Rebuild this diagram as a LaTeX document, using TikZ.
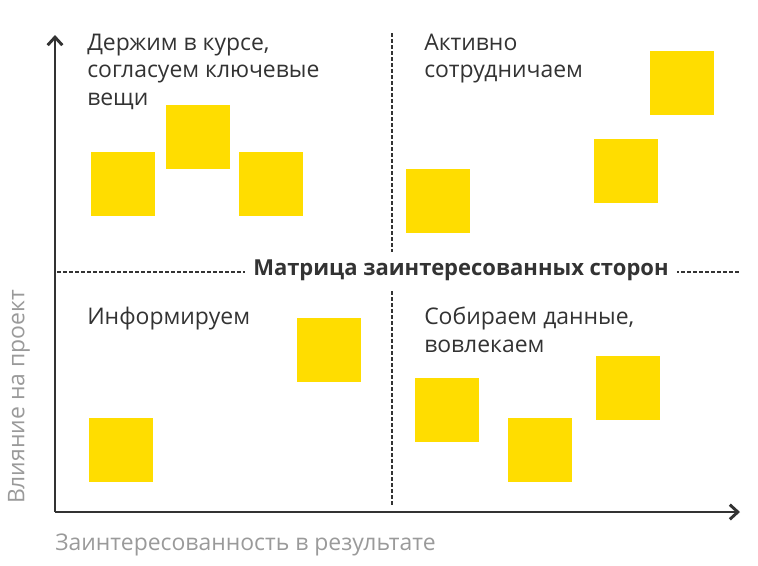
\documentclass[tikz,border=0pt]{standalone}
\usepackage{fontspec}
\setmainfont{Open Sans}
\usetikzlibrary{arrows.meta}
\definecolor{sticky}{HTML}{FFDD00}
\definecolor{axisc}{HTML}{333333}
\definecolor{labelc}{HTML}{9A9A9A}
\definecolor{textc}{HTML}{333333}
\begin{document}
\begin{tikzpicture}[x=0.75pt,y=-0.75pt,
  note/.style={fill=sticky,draw=none,minimum width=48pt,minimum height=48pt,inner sep=0pt,anchor=north west},
  quad/.style={anchor=north west,align=left,text=textc,font=\fontsize{17.2}{20.4}\selectfont,inner sep=0pt},
  axisline/.style={axisc,line width=2.2pt,-{Straight Barb[length=6pt,width=11pt,line width=2.2pt]}},
  divider/.style={axisc,line width=0.8pt,dash pattern=on 3pt off 1.5pt},
  axislabel/.style={text=labelc,font=\fontsize{17.2}{19}\selectfont,inner sep=0pt}]
\useasboundingbox (0,0) rectangle (758,565);
% axes
\coordinate (o) at (55,512);
\coordinate (ytop) at (55,35);
\coordinate (xend) at (740,512);
\draw[axisline] (o) -- (ytop);
\draw[axisline] (o) -- (xend);
% dividers
\coordinate (vt) at (392,33);
\coordinate (vb) at (392,505);
\coordinate (hl) at (57,272);
\coordinate (hr) at (740,272);
\draw[divider] (vt) -- (vb);
\draw[divider] (hl) -- (hr);
\node[fill=white,inner sep=6pt,font=\bfseries\fontsize{16.5}{19}\selectfont,text=textc] (title) at (461,270) {Матрица заинтересованных сторон};
% quadrant labels
\node[quad] (q1) at (87,34) {Держим в курсе,\\согласуем ключевые\\вещи};
\node[quad] (q2) at (424,34) {Активно\\сотрудничаем};
\node[quad] (q3) at (87,307) {Информируем};
\node[quad] (q4) at (424,307) {Собираем данные,\\вовлекаем};
% notes
\node[note] (n1) at (91,152) {};
\node[note] (n2) at (166,105) {};
\node[note] (n3) at (239,152) {};
\node[note] (n4) at (406,169) {};
\node[note] (n5) at (594,139) {};
\node[note] (n6) at (650,51) {};
\node[note] (n7) at (297,318) {};
\node[note] (n8) at (89,418) {};
\node[note] (n9) at (415,378) {};
\node[note] (n10) at (508,418) {};
\node[note] (n11) at (596,356) {};
% axis labels
\node[axislabel,rotate=90] (ylab) at (19,397) {Влияние на проект};
\node[axislabel,anchor=west] (xlab) at (55,545) {Заинтересованность в результате};
\end{tikzpicture}
\end{document}
